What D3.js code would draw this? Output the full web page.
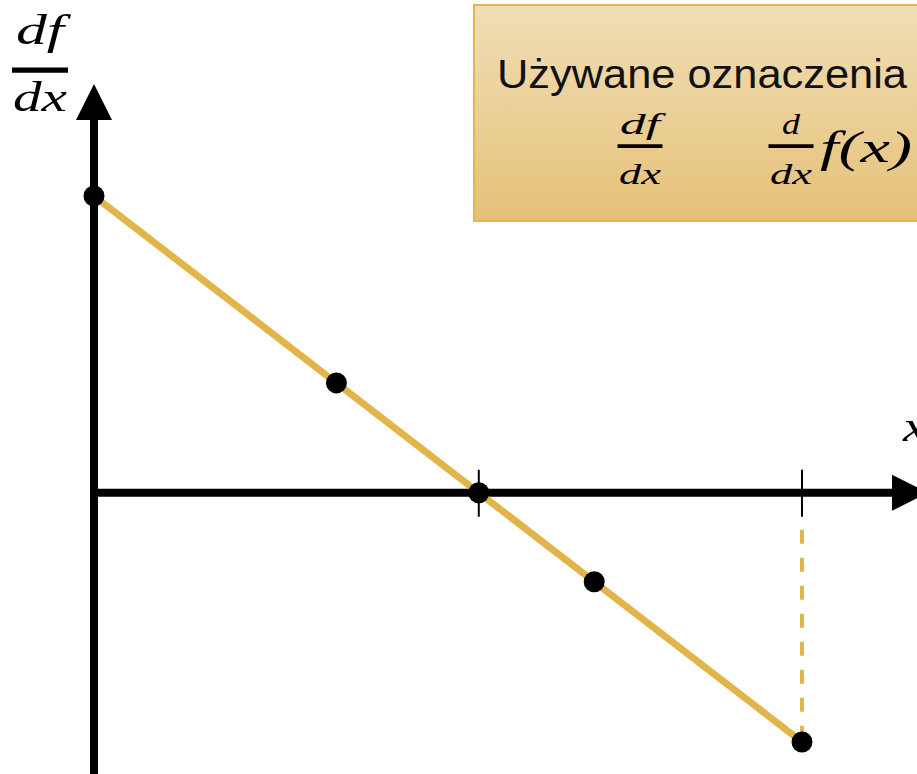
<!DOCTYPE html>
<html>
<head>
<meta charset="utf-8">
<script src="https://cdn.jsdelivr.net/npm/d3@7"></script>
<style>
  body { margin: 0; background: #fff; overflow: hidden; }
  svg { display: block; }
</style>
</head>
<body>
<script>
// data (arbitrary units)
var xValues = [0, 3.15, 5, 6.5, 9.2];
var dfdx = [5, 1.85, 0, -1.5, -4.2];
var tickValues = [5, 9.2];
var legendTitle = "Używane oznaczenia";

var w = 917, h = 774;
var gold = "#E2B54B";
var mathFont = "Liberation Serif, serif";

var x = d3.scaleLinear().domain([0, 9.2]).range([94, 802]);
var y = d3.scaleLinear().domain([-4.2, 5]).range([742, 196]);

var svg = d3.select("body").append("svg")
    .attr("width", w)
    .attr("height", h);

var defs = svg.append("defs");
var grad = defs.append("linearGradient")
    .attr("id", "legendFill")
    .attr("x1", 0).attr("y1", 0).attr("x2", 0).attr("y2", 1);
grad.append("stop").attr("offset", "0%").attr("stop-color", "#F1DEB6");
grad.append("stop").attr("offset", "100%").attr("stop-color", "#E5C178");

// legend box
svg.append("rect")
    .attr("x", 474).attr("y", 5)
    .attr("width", 460).attr("height", 216)
    .attr("fill", "url(#legendFill)")
    .attr("stroke", "#E2B84E")
    .attr("stroke-width", 2);

svg.append("text")
    .attr("x", 497).attr("y", 88)
    .attr("font-family", "Liberation Sans, sans-serif")
    .attr("font-size", 40)
    .attr("textLength", 410)
    .attr("lengthAdjust", "spacingAndGlyphs")
    .attr("fill", "#111")
    .text(legendTitle);

// math text, stretched to the width seen in the picture
function mathText(g, tx, ty, str, size, len, anchor) {
    return g.append("text").attr("x", tx).attr("y", ty)
        .attr("text-anchor", anchor || "start")
        .attr("font-family", mathFont).attr("font-style", "italic")
        .attr("font-size", size)
        .attr("textLength", len)
        .attr("lengthAdjust", "spacingAndGlyphs")
        .text(str);
}

function fraction(g, cx, numY, num, numW, den, denW, size, barW, barY, denY) {
    mathText(g, cx, numY, num, size, numW, "middle");
    g.append("line")
        .attr("x1", cx - barW / 2).attr("x2", cx + barW / 2)
        .attr("y1", barY).attr("y2", barY)
        .attr("stroke", "#000").attr("stroke-width", size / 8);
    mathText(g, cx, denY, den, size, denW, "middle");
}

var leg = svg.append("g");
fraction(leg, 640, 134, "df", 40, "dx", 42, 30, 45, 146, 184);
fraction(leg, 791, 134, "d", 18, "dx", 42, 30, 45, 146, 184);
mathText(leg, 820, 162, "f(x)", 44, 92);

// y axis label
fraction(svg, 40, 44, "df", 48, "dx", 54, 42, 56, 70, 111);

// x axis label
mathText(svg, 903, 441, "x", 44, 24);

// axes
var x0 = x(0), y0 = y(0);
svg.append("line")
    .attr("x1", x0).attr("x2", x0)
    .attr("y1", h).attr("y2", 118)
    .attr("stroke", "#000").attr("stroke-width", 8);
svg.append("path")
    .attr("d", "M" + (x0 - 18) + ",120L" + (x0 + 18) + ",120L" + x0 + ",84Z")
    .attr("fill", "#000");

svg.append("line")
    .attr("x1", x0 - 4).attr("x2", 895)
    .attr("y1", y0).attr("y2", y0)
    .attr("stroke", "#000").attr("stroke-width", 8);
svg.append("path")
    .attr("d", "M892," + (y0 - 18) + "L892," + (y0 + 18) + "L928," + y0 + "Z")
    .attr("fill", "#000");

// ticks
svg.selectAll("line.tick")
    .data(tickValues)
    .enter()
    .append("line")
    .attr("class", "tick")
    .attr("x1", function(d) { return x(d); })
    .attr("x2", function(d) { return x(d); })
    .attr("y1", y0 - 23)
    .attr("y2", y0 + 24)
    .attr("stroke", "#000")
    .attr("stroke-width", 2);

// dashed drop line from last point
var last = xValues.length - 1;
svg.append("line")
    .attr("x1", x(xValues[last])).attr("x2", x(xValues[last]))
    .attr("y1", y0 + 37).attr("y2", y(dfdx[last]))
    .attr("stroke", gold)
    .attr("stroke-width", 4)
    .attr("stroke-dasharray", "14,14");

// derivative line
var line = d3.line()
    .x(function(d, i) { return x(xValues[i]); })
    .y(function(d) { return y(d); });

svg.append("path")
    .datum(dfdx)
    .attr("d", line)
    .attr("fill", "none")
    .attr("stroke", gold)
    .attr("stroke-width", 7);

// points
svg.selectAll("circle")
    .data(dfdx)
    .enter()
    .append("circle")
    .attr("cx", function(d, i) { return x(xValues[i]); })
    .attr("cy", function(d) { return y(d); })
    .attr("r", 10.5)
    .attr("fill", "#000");
</script>
</body>
</html>
